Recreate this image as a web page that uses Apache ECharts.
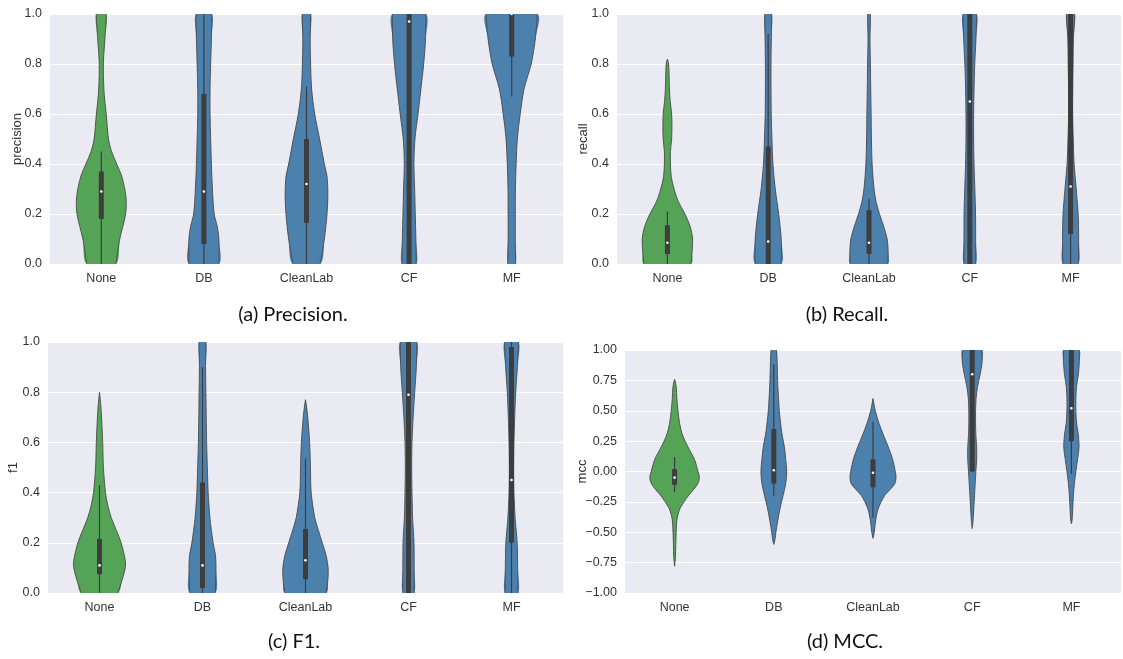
<!DOCTYPE html>
<html>
<head>
<meta charset="utf-8">
<script src="https://cdn.jsdelivr.net/npm/echarts@6/dist/echarts.min.js"></script>
<style>
  html, body { margin: 0; padding: 0; background: #ffffff; }
  #chart { width: 1123px; height: 659px; }
</style>
</head>
<body>
<div id="chart"></div>
<script>
// Category labels shared by all four panels
const categories = ['None', 'DB', 'CleanLab', 'CF', 'MF'];

// Violin outlines: [metric value, half-width as a fraction of one category band]
const precisionShapes = [
  [[0, 0.142], [0.1, 0.18], [0.2, 0.237], [0.27, 0.24], [0.35, 0.2], [0.4, 0.15], [0.45, 0.1], [0.5, 0.07], [0.6, 0.048], [0.65, 0.035], [0.7, 0.025], [0.8, 0.02], [0.9, 0.035], [1.0, 0.05]],
  [[0, 0.146], [0.1, 0.146], [0.15, 0.13], [0.2, 0.1], [0.3, 0.083], [0.4, 0.073], [0.5, 0.066], [0.6, 0.06], [0.7, 0.06], [0.8, 0.066], [0.9, 0.073], [1.0, 0.077]],
  [[0, 0.133], [0.1, 0.174], [0.2, 0.2], [0.28, 0.208], [0.35, 0.2], [0.4, 0.174], [0.5, 0.128], [0.6, 0.08], [0.7, 0.05], [0.8, 0.04], [0.9, 0.036], [1.0, 0.042]],
  [[0, 0.07], [0.1, 0.066], [0.2, 0.06], [0.3, 0.054], [0.4, 0.047], [0.5, 0.057], [0.6, 0.087], [0.7, 0.115], [0.8, 0.142], [0.9, 0.16], [1.0, 0.163]],
  [[0, 0.038], [0.1, 0.035], [0.2, 0.035], [0.3, 0.036], [0.4, 0.043], [0.5, 0.055], [0.6, 0.083], [0.7, 0.12], [0.8, 0.19], [0.9, 0.23], [1.0, 0.25]]
];
const recallShapes = [
  [[0, 0.233], [0.05, 0.245], [0.1, 0.25], [0.15, 0.226], [0.2, 0.174], [0.25, 0.108], [0.3, 0.066], [0.35, 0.038], [0.4, 0.03], [0.45, 0.03], [0.5, 0.042], [0.55, 0.045], [0.6, 0.042], [0.65, 0.028], [0.7, 0.02], [0.75, 0.017], [0.8, 0.012], [0.82, 0]],
  [[0, 0.129], [0.1, 0.129], [0.2, 0.104], [0.3, 0.07], [0.4, 0.047], [0.5, 0.037], [0.6, 0.03], [0.7, 0.028], [0.8, 0.028], [0.9, 0.031], [1.0, 0.035]],
  [[0, 0.185], [0.05, 0.19], [0.1, 0.18], [0.15, 0.146], [0.2, 0.104], [0.25, 0.07], [0.3, 0.05], [0.4, 0.031], [0.5, 0.024], [0.6, 0.021], [0.7, 0.017], [0.8, 0.014], [0.9, 0.01], [1.0, 0.015]],
  [[0, 0.059], [0.1, 0.058], [0.2, 0.057], [0.3, 0.05], [0.4, 0.042], [0.5, 0.038], [0.6, 0.038], [0.7, 0.042], [0.8, 0.049], [0.9, 0.061], [1.0, 0.068]],
  [[0, 0.077], [0.1, 0.08], [0.2, 0.075], [0.3, 0.056], [0.4, 0.035], [0.5, 0.026], [0.6, 0.019], [0.7, 0.02], [0.8, 0.024], [0.9, 0.028], [1.0, 0.042]]
];
const f1Shapes = [
  [[0, 0.176], [0.05, 0.218], [0.1, 0.25], [0.13, 0.25], [0.2, 0.21], [0.25, 0.163], [0.3, 0.114], [0.35, 0.08], [0.4, 0.058], [0.5, 0.038], [0.6, 0.031], [0.7, 0.02], [0.75, 0.012], [0.8, 0]],
  [[0, 0.124], [0.1, 0.131], [0.15, 0.126], [0.2, 0.103], [0.3, 0.072], [0.4, 0.055], [0.5, 0.047], [0.6, 0.04], [0.7, 0.036], [0.8, 0.033], [0.9, 0.03], [1.0, 0.034]],
  [[0, 0.2], [0.05, 0.217], [0.1, 0.22], [0.15, 0.2], [0.2, 0.163], [0.25, 0.125], [0.3, 0.09], [0.4, 0.055], [0.5, 0.048], [0.6, 0.04], [0.7, 0.022], [0.75, 0.008], [0.77, 0]],
  [[0, 0.055], [0.1, 0.055], [0.2, 0.053], [0.3, 0.04], [0.4, 0.034], [0.5, 0.031], [0.6, 0.034], [0.7, 0.045], [0.8, 0.06], [0.9, 0.076], [1.0, 0.081]],
  [[0, 0.064], [0.1, 0.06], [0.2, 0.055], [0.3, 0.035], [0.4, 0.024], [0.5, 0.021], [0.6, 0.024], [0.7, 0.031], [0.8, 0.041], [0.9, 0.057], [1.0, 0.069]]
];
const mccShapes = [
  [[-0.78, 0], [-0.7, 0.009], [-0.6, 0.012], [-0.5, 0.016], [-0.4, 0.023], [-0.35, 0.036], [-0.3, 0.057], [-0.2, 0.138], [-0.15, 0.19], [-0.1, 0.234], [-0.05, 0.25], [0, 0.236], [0.1, 0.2], [0.2, 0.136], [0.3, 0.08], [0.4, 0.05], [0.5, 0.034], [0.6, 0.023], [0.7, 0.016], [0.76, 0]],
  [[-0.6, 0], [-0.55, 0.014], [-0.5, 0.021], [-0.4, 0.041], [-0.3, 0.064], [-0.2, 0.093], [-0.1, 0.12], [0, 0.13], [0.1, 0.12], [0.2, 0.107], [0.3, 0.084], [0.4, 0.068], [0.5, 0.055], [0.6, 0.048], [0.7, 0.041], [0.8, 0.037], [0.9, 0.034], [1.0, 0.027]],
  [[-0.55, 0], [-0.5, 0.0125], [-0.4, 0.027], [-0.3, 0.055], [-0.2, 0.116], [-0.15, 0.17], [-0.1, 0.22], [-0.05, 0.232], [0, 0.225], [0.1, 0.198], [0.2, 0.155], [0.3, 0.105], [0.4, 0.059], [0.5, 0.023], [0.55, 0.011], [0.6, 0]],
  [[-0.47, 0], [-0.4, 0.009], [-0.3, 0.016], [-0.2, 0.023], [-0.1, 0.03], [0, 0.037], [0.1, 0.045], [0.2, 0.045], [0.3, 0.037], [0.4, 0.034], [0.5, 0.034], [0.6, 0.039], [0.7, 0.054], [0.8, 0.08], [0.9, 0.1], [1.0, 0.098]],
  [[-0.43, 0], [-0.4, 0.007], [-0.3, 0.014], [-0.2, 0.02], [-0.1, 0.03], [0, 0.045], [0.1, 0.062], [0.2, 0.077], [0.3, 0.07], [0.4, 0.052], [0.5, 0.045], [0.6, 0.045], [0.7, 0.052], [0.8, 0.07], [0.9, 0.08], [1.0, 0.08]]
];

// Inner box summaries: [whisker low, Q1, median, Q3, whisker high]
const precisionBoxes = [[0, 0.18, 0.29, 0.37, 0.45], [0, 0.08, 0.29, 0.68, 1.0], [0, 0.165, 0.32, 0.5, 0.71], [0, 0, 0.97, 1.0, 1.0], [0.67, 0.83, 1.0, 1.0, 1.0]];
const recallBoxes = [[0, 0.04, 0.085, 0.155, 0.21], [0, 0.0, 0.09, 0.47, 0.92], [0, 0.04, 0.085, 0.215, 0.26], [0, 0, 0.65, 1.0, 1.0], [0, 0.12, 0.31, 1.0, 1.0]];
const f1Boxes = [[0, 0.075, 0.11, 0.215, 0.43], [0, 0.02, 0.11, 0.44, 0.9], [0, 0.055, 0.13, 0.255, 0.535], [0, 0, 0.79, 1.0, 1.0], [0, 0.2, 0.45, 0.98, 1.0]];
const mccBoxes = [[-0.17, -0.11, -0.05, 0.02, 0.12], [-0.2, -0.1, 0.01, 0.35, 0.88], [-0.38, -0.13, -0.01, 0.1, 0.41], [0, 0, 0.8, 1.0, 1.0], [-0.02, 0.25, 0.52, 1.0, 1.0]];

// Violin fill per category
const violinColors = ['#55a357', '#4c80ad', '#4c80ad', '#4c80ad', '#4c80ad'];

// Panel captions and y-axis titles
const captions = ['(a) Precision.', '(b) Recall.', '(c) F1.', '(d) MCC.'];
const metricNames = ['precision', 'recall', 'f1', 'mcc'];

const chart = echarts.init(document.getElementById('chart'), null, { renderer: 'canvas' });

const grids = [
  { left: 50, top: 14, width: 513, height: 250 },
  { left: 617, top: 14, width: 504, height: 250 },
  { left: 48, top: 342, width: 515, height: 251 },
  { left: 625, top: 350, width: 496, height: 243 }
];

const tickFont = { fontFamily: 'Liberation Sans, Arial, sans-serif', fontSize: 12.5, color: '#333333' };

function violinSeries(idx, shapes, boxes) {
  return {
    type: 'custom',
    xAxisIndex: idx,
    yAxisIndex: idx,
    clip: true,
    silent: true,
    data: categories.map((c, i) => [i, 0]),
    encode: { x: 0, y: 1 },
    renderItem: function (params, api) {
      const i = api.value(0);
      const band = api.size([1, 0])[0];
      const cx = api.coord([i, 0])[0];
      const outline = shapes[i];
      const right = outline.map(p => [cx + p[1] * band, api.coord([i, p[0]])[1]]);
      const left = outline.slice().reverse().map(p => [cx - p[1] * band, api.coord([i, p[0]])[1]]);
      // drop the shared tip so the closed outline has no duplicate vertex
      const leftNoTip = left.filter((p, k) => outline[outline.length - 1 - k][1] > 0);
      const poly = right.concat(leftNoTip);
      const b = boxes[i];
      const y = v => api.coord([i, v])[1];
      const edge = { stroke: '#4a4a4a', lineWidth: 0.9, fill: null };
      return {
        type: 'group',
        children: [
          { type: 'polygon', shape: { points: poly, smooth: 0.3 }, style: { fill: violinColors[i], stroke: null } },
          { type: 'polyline', shape: { points: right, smooth: 0.3 }, style: edge },
          { type: 'polyline', shape: { points: left, smooth: 0.3 }, style: edge },
          { type: 'line', shape: { x1: cx, y1: y(b[0]), x2: cx, y2: y(b[4]) }, style: { stroke: '#3d3d3d', lineWidth: 1.2 } },
          { type: 'rect', shape: { x: cx - 2.5, y: y(b[3]), width: 5, height: y(b[1]) - y(b[3]) }, style: { fill: '#3d3d3d' } },
          { type: 'circle', shape: { cx: cx, cy: y(b[2]), r: 1.3 }, style: { fill: '#ffffff' } }
        ]
      };
    }
  };
}

function xAxisFor(idx) {
  return {
    type: 'category',
    gridIndex: idx,
    data: categories,
    boundaryGap: true,
    axisLine: { show: false },
    axisTick: { show: false },
    splitLine: { show: false },
    axisLabel: Object.assign({ margin: 8 }, tickFont)
  };
}

function yAxisFor(idx, min, max, interval, digits, nameGap) {
  return {
    type: 'value',
    gridIndex: idx,
    min: min,
    max: max,
    interval: interval,
    name: metricNames[idx],
    nameLocation: 'middle',
    nameGap: nameGap,
    nameMoveOverlap: false,
    nameTextStyle: { fontFamily: 'Liberation Sans, Arial, sans-serif', fontSize: 13, color: '#333333' },
    axisLine: { show: false },
    axisTick: { show: false },
    splitLine: { show: true, lineStyle: { color: '#ffffff', width: 1 } },
    axisLabel: Object.assign({
      margin: 8,
      formatter: v => (v < 0 ? '\u2212' : '') + Math.abs(v).toFixed(digits)
    }, tickFont)
  };
}

const option = {
  backgroundColor: '#ffffff',
  animation: false,
  grid: grids.map(g => Object.assign({ show: true, backgroundColor: '#eaeaf2', borderWidth: 0 }, g)),
  xAxis: [0, 1, 2, 3].map(xAxisFor),
  yAxis: [
    yAxisFor(0, 0, 1, 0.2, 1, 26),
    yAxisFor(1, 0, 1, 0.2, 1, 27),
    yAxisFor(2, 0, 1, 0.2, 1, 28),
    yAxisFor(3, -1, 1, 0.25, 2, 36)
  ],
  title: [
    { text: captions[0], left: 288, top: 300 },
    { text: captions[1], left: 842, top: 300 },
    { text: captions[2], left: 289, top: 627 },
    { text: captions[3], left: 840, top: 627 }
  ].map(t => Object.assign({
    textAlign: 'center',
    textStyle: { fontFamily: 'Lato, Open Sans, sans-serif', fontSize: 20, fontWeight: 'normal', color: '#111111' }
  }, t)),
  series: [
    violinSeries(0, precisionShapes, precisionBoxes),
    violinSeries(1, recallShapes, recallBoxes),
    violinSeries(2, f1Shapes, f1Boxes),
    violinSeries(3, mccShapes, mccBoxes)
  ]
};

chart.setOption(option);
</script>
</body>
</html>
